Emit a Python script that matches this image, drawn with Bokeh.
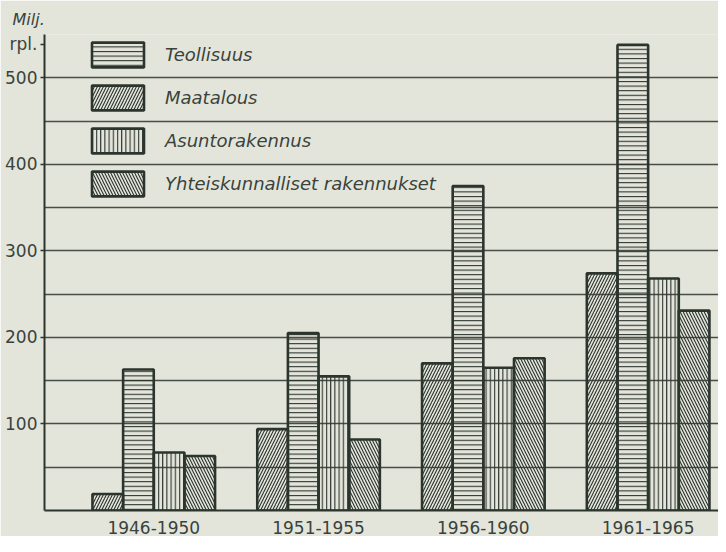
import numpy as np
from bokeh.plotting import figure
from bokeh.models import FixedTicker, Legend, LegendItem, Title, Range1d
from bokeh.embed import file_html
from bokeh.resources import INLINE

# ---- data ----
periods = ["1946-1950", "1951-1955", "1956-1960", "1961-1965"]
teollisuus = [163, 205, 375, 538]
maatalous = [19, 94, 170, 274]
asuntorakennus = [67, 155, 165, 268]
yhteiskunnalliset = [63, 82, 176, 231]
y_tick_values = [100, 200, 300, 400, 500]
grid_values = [50, 100, 150, 200, 250, 300, 350, 400, 450, 500, 550]
unit_top, unit_bottom = "Milj.", "rpl."

# ---- style ----
PAPER = "#e3e5db"
INK = "#2c342e"
TEXT = "#3a423c"
FONT = "'DejaVu Sans', sans-serif"

X0, X1 = -0.663, 3.427
Y0, Y1 = 0, 550
p = figure(width=718, height=536, output_backend="svg", toolbar_location=None,
           x_range=Range1d(X0, X1), y_range=Range1d(Y0, Y1),
           background_fill_color=PAPER, border_fill_color=PAPER,
           min_border_left=44, min_border_right=0, min_border_top=34,
           min_border_bottom=24)
p.outline_line_color = None

# grid drawn through the bars, as in the print
p.xgrid.visible = False
p.ygrid.ticker = FixedTicker(ticks=grid_values)
p.ygrid.grid_line_color = INK
p.ygrid.grid_line_width = 1.3
p.ygrid.grid_line_alpha = 0.85

# bars: left-to-right order within a group
bar_w = 0.186
order = [("Maatalous", maatalous, "/", 6),
         ("Teollisuus", teollisuus, "-", 4.6),
         ("Asuntorakennus", asuntorakennus, "|", 4.2),
         ("Yhteiskunnalliset rakennukset", yhteiskunnalliset, "\\", 6)]
renderers = {}
idx = np.arange(len(periods))
for k, (name, vals, pat, sc) in enumerate(order):
    r = p.vbar(x=idx + (k - 1.5) * bar_w, top=vals, bottom=0, width=bar_w,
               fill_color=PAPER, fill_alpha=0, line_color=INK, line_width=2.6,
               hatch_pattern=pat, hatch_color=INK, hatch_scale=sc, hatch_weight=1.1)
    renderers[name] = r

legend_order = ["Teollisuus", "Maatalous", "Asuntorakennus", "Yhteiskunnalliset rakennukset"]
legend = Legend(items=[LegendItem(label=n, renderers=[renderers[n]]) for n in legend_order],
                location=(41, 311), orientation="vertical",
                glyph_width=65, glyph_height=31, label_height=31, spacing=12,
                label_standoff=15, padding=0, margin=0,
                background_fill_alpha=0, border_line_color=None,
                label_text_font=FONT, label_text_font_style="italic",
                label_text_font_size="18px", label_text_color=TEXT)
p.add_layout(legend, "center")

# y axis (the unit "rpl." sits as a label just under the top line)
unit_pos = 539
p.yaxis.ticker = FixedTicker(ticks=y_tick_values + [unit_pos])
p.yaxis.major_label_overrides = {unit_pos: unit_bottom}
p.yaxis.axis_line_color = INK
p.yaxis.axis_line_width = 2
p.yaxis.major_tick_line_color = INK
p.yaxis.major_tick_line_width = 1.5
p.yaxis.major_tick_out = 4
p.yaxis.major_tick_in = 0
p.yaxis.minor_tick_line_color = None
p.yaxis.major_label_standoff = 3
p.yaxis.major_label_text_font = FONT
p.yaxis.major_label_text_font_size = "17px"
p.yaxis.major_label_text_color = TEXT

# x axis
p.xaxis.ticker = FixedTicker(ticks=list(idx))
p.xaxis.major_label_overrides = {int(i): s for i, s in zip(idx, periods)}
p.xaxis.axis_line_color = INK
p.xaxis.axis_line_width = 2
p.xaxis.major_tick_line_color = None
p.xaxis.minor_tick_line_color = None
p.xaxis.major_label_standoff = 4
p.xaxis.major_label_text_font = FONT
p.xaxis.major_label_text_font_size = "17px"
p.xaxis.major_label_text_color = TEXT

# "Milj." above the axis
p.add_layout(Title(text=unit_top, align="left", offset=-32, standoff=12,
                   text_font=FONT, text_font_style="italic", text_font_size="16px",
                   text_color=TEXT), "above")

open("out.html", "w").write(file_html(p, INLINE))
